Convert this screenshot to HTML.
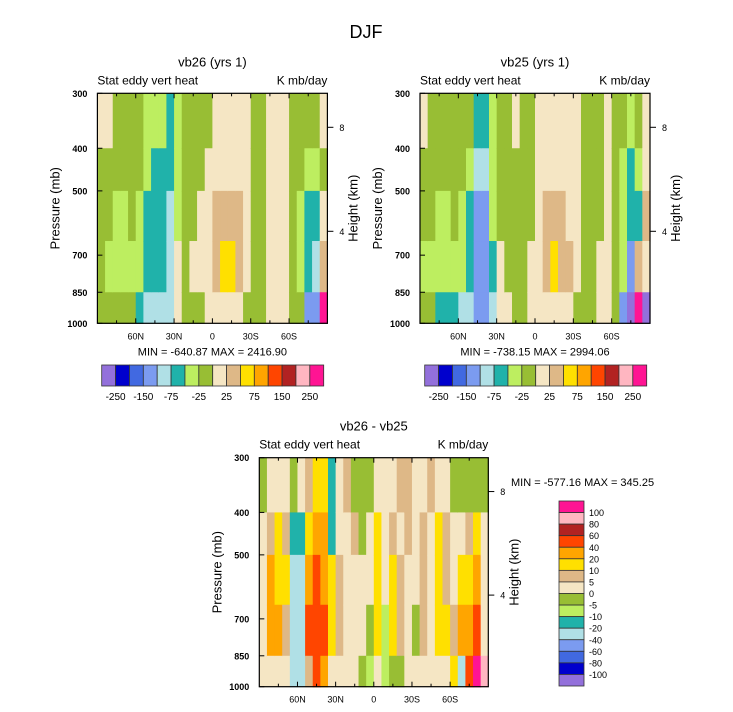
<!DOCTYPE html>
<html><head><meta charset="utf-8"><style>
html,body{margin:0;padding:0;background:#fff;}
svg{display:block;font-family:"Liberation Sans",Arial,sans-serif;}
</style></head><body>
<svg id="c" width="733" height="712" viewBox="0 0 733 712" xmlns="http://www.w3.org/2000/svg">
<text x="366" y="38" font-size="18" text-anchor="middle">DJF</text>
</svg>
<script>
const colors = ["#9370DB","#0000CD","#4169E1","#7B9BF0","#B0E0E6","#20B2AA","#BDEE60","#98BE34","#F5E6C4","#DEB887","#FFE000","#FFA500","#FF4500","#B22222","#FFB6C1","#FF1493"];
const latTicks = ["60N","30N","0","30S","60S"];
const latTickVals = [60,30,0,-30,-60];
const presTicks = [300,400,500,700,850,1000];
const rowEdges = [300,400,500,650,850,1000];
const topBarLabels = ["-250","-150","-75","-25","25","75","150","250"];
const diffBarLabels = ["100","80","60","40","20","10","5","0","-5","-10","-20","-40","-60","-80","-100"];
const vb26 = ["87777","87767","77667","77667","77767","77665","66554","65554","65554","55444","66688","77777","77787","77887","78888","88998","889a8","889a8","88998","88887","77777","77777","88888","88888","88888","77777","77667","76553","76543","8789f"];
const vb25 = ["87767","77767","77665","77665","77765","77664","76554","54333","54333","66654","77788","77778","87777","77777","77788","88888","88998","889a8","88998","88898","88887","77777","77777","77788","88888","77777","76663","65530","7659f","88980"];
const diff = ["78888","89bb8","8aab8","89a98","75444","85444","9abc9","abccc","abbcb","55aa8","88998","98888","79888","77887","78876","8aaa8","88866","89aa7","98997","99888","88878","89998","98888","8aaa8","899a8","7889a","78ab4","79abc","7abcf","7888e"];
const svg = document.getElementById('c');
const NS = "http://www.w3.org/2000/svg";
function mk(tag, attrs, parent){const e=document.createElementNS(NS,tag);for(const k in attrs)e.setAttribute(k,attrs[k]);(parent||svg).appendChild(e);return e;}
function txt(x,y,s,size,anchor,parent){const t=mk('text',{x:x,y:y,'font-size':size,'text-anchor':anchor||'start'},parent);t.textContent=s;return t;}

function panel(name, x0, y0, w, h, data, title, minmax){
  const g = mk('g',{});
  
  
  const xs = lat => x0 + (90 - lat) / 180 * w;
  const ys = p => y0 + (Math.log(p) - Math.log(300)) / (Math.log(1000) - Math.log(300)) * h;
  const ncol = data.length;
  for (let i=0;i<ncol;i++){
    for (let r=0;r<rowEdges.length-1;r++){
      const ci = parseInt(data[i][r],16);
      const lat0 = 90 - i*180/ncol, lat1 = 90-(i+1)*180/ncol;
      const rc = mk('rect',{x:xs(lat0),y:ys(rowEdges[r]),width:xs(lat1)-xs(lat0)+0.6,height:ys(rowEdges[r+1])-ys(rowEdges[r])+0.6,fill:colors[ci]},g);
      
      
    }
  }
  mk('rect',{x:x0,y:y0,width:w,height:h,fill:'none',stroke:'#000','stroke-width':1.2},g);
  const t1=txt(x0+w/2,y0-27,title,13,'middle',g);
  
  
  const t2=txt(x0,y0-9,"Stat eddy vert heat",12,'start',g);
  
  
  const t3=txt(x0+w,y0-9,"K mb/day",12,'end',g);
  
  
  for (let lat=75; lat>=-75; lat-=15){
    const X=xs(lat), major = lat%30===0;
    mk('line',{x1:X,y1:y0,x2:X,y2:y0+(major?5:3),stroke:'#000'},g);
    mk('line',{x1:X,y1:y0+h,x2:X,y2:y0+h-(major?5:3),stroke:'#000'},g);
  }
  latTickVals.forEach((v,i)=>{
    const t=txt(xs(v),y0+h+16,latTicks[i],9,'middle',g);
    
    
  });
  presTicks.forEach(p=>{
    const Y=ys(p);
    mk('line',{x1:x0,y1:Y,x2:x0+5,y2:Y,stroke:'#000'},g);
    const t=txt(x0-10,Y+3.5,String(p),9,'end',g);
    t.setAttribute('font-weight','bold');
    
    
  });
  const yl=txt(0,0,"Pressure (mb)",13,'middle',g);
  yl.setAttribute('transform',`translate(${x0-38},${y0+h/2}) rotate(-90)`);
  
  
  [[8,34],[4,138]].forEach(([km,dy])=>{
    const Y = y0 + dy*h/230;
    mk('line',{x1:x0+w,y1:Y,x2:x0+w+6,y2:Y,stroke:'#000'},g);
    const t=txt(x0+w+12,Y+3.5,String(km),9,'start',g);
    
    
  });
  const hl=txt(0,0,"Height (km)",13,'middle',g);
  hl.setAttribute('transform',`translate(${x0+w+30},${y0+h/2}) rotate(-90)`);
  
  
  if (minmax){
    const m=txt(x0+w/2,y0+h+32,minmax,11,'middle',g);
    
    
  }
}
function hbar(name,x0,y0,w,h){
  const g=mk('g',{});
  
  
  const bw=w/colors.length;
  colors.forEach((c,i)=>{
    const r=mk('rect',{x:x0+i*bw,y:y0,width:bw,height:h,fill:c,stroke:'#333','stroke-width':0.8},g);
    
    
  });
  topBarLabels.forEach((s,i)=>{
    const t=txt(x0+(1+2*i)*bw,y0+h+14,s,10,'middle',g);
    
    
  });
}
function vbar(name,x0,y0,w,h){
  const g=mk('g',{});
  
  
  const bh=h/colors.length;
  colors.slice().reverse().forEach((c,i)=>{
    const r=mk('rect',{x:x0,y:y0+i*bh,width:w,height:bh,fill:c,stroke:'#333','stroke-width':0.8},g);
    
    
  });
  diffBarLabels.forEach((s,i)=>{
    const t=txt(x0+w+5,y0+(i+1)*bh+3.5,s,9,'start',g);
    
    
  });
}
panel('panel-vb26',97.4,93.3,230,230,vb26,"vb26 (yrs 1)","MIN = -640.87  MAX = 2416.90");
panel('panel-vb25',420,93.3,230,230,vb25,"vb25 (yrs 1)","MIN = -738.15  MAX = 2994.06");
panel('panel-diff',259.3,457.7,229,229,diff,"vb26 - vb25",null);
hbar('colorbar-vb26',101.7,365,222,21);
hbar('colorbar-vb25',424.7,365,222,21);
vbar('colorbar-diff',559,501,25,185);
const mm=txt(511,486,"MIN = -577.16  MAX = 345.25",11,'start');


</script>
</body></html>
